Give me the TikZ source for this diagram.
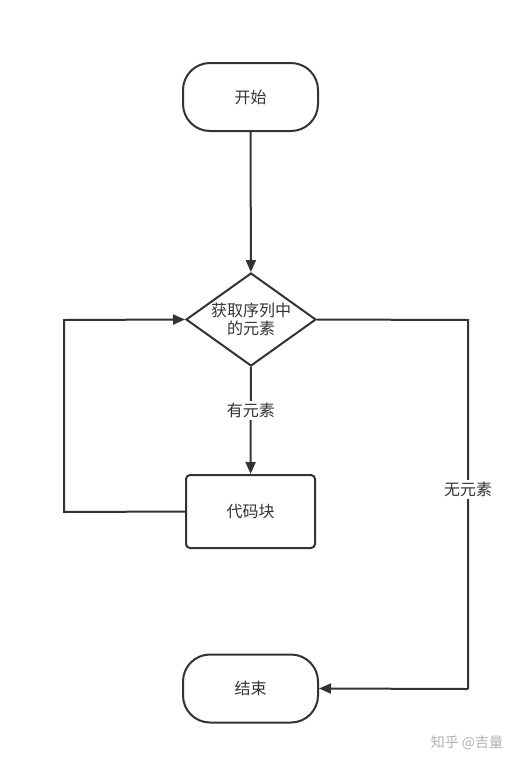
\documentclass[tikz,border=0pt]{standalone}
\usepackage{fontspec}
\setmainfont{Noto Sans CJK SC}
\usetikzlibrary{arrows.meta,shapes.geometric}
\definecolor{ln}{HTML}{333333}
\definecolor{wm}{HTML}{B0B0B0}
\begin{document}
\begin{tikzpicture}[x=1pt,y=-1pt,
  every node/.style={font=\fontsize{16}{19}\selectfont, text=ln},
  term/.style={draw=ln, line width=2pt, rounded corners=27pt, minimum width=135pt, minimum height=68pt, fill=white},
  proc/.style={draw=ln, line width=2pt, rounded corners=4pt, minimum width=129pt, minimum height=73pt, fill=white},
  dec/.style={draw=ln, line width=2pt, diamond, minimum width=130pt, minimum height=93pt, inner sep=0pt, aspect=1.4, align=center},
  conn/.style={draw=ln, line width=2pt, -{Triangle[length=12pt,width=10pt]}},
  plain/.style={draw=ln, line width=2pt},
  lbl/.style={fill=white, inner sep=2pt}]
\useasboundingbox (0,0) rectangle (523,766);
\node[term] (start) at (250.5,97) {开始};
\node[dec] (d) at (251,319.5) {\fontsize{16}{20}\selectfont 获取序列中\\[-1pt]的元素};
\node[proc] (code) at (250.5,511.5) {代码块};
\node[term] (end) at (250.5,688.5) {结束};
\coordinate (l1) at (64,512);
\coordinate (l2) at (64,320);
\coordinate (r1) at (468,320);
\coordinate (r2) at (468,689);
\draw[conn] (start) -- (d);
\draw[conn] (d) -- node[lbl, pos=0.41] {有元素} (code);
\draw[conn] (code.west) -- (l1) -- (l2) -- (d.west);
\draw[plain] (d.east) -- (r1) -- node[lbl, pos=0.46] {无元素} (r2);
\draw[conn] (r2) -- (end.east);
\node[text=wm, font=\fontsize{14}{16}\selectfont] (wmk) at (467,743) {知乎 @吉量};
\end{tikzpicture}
\end{document}
